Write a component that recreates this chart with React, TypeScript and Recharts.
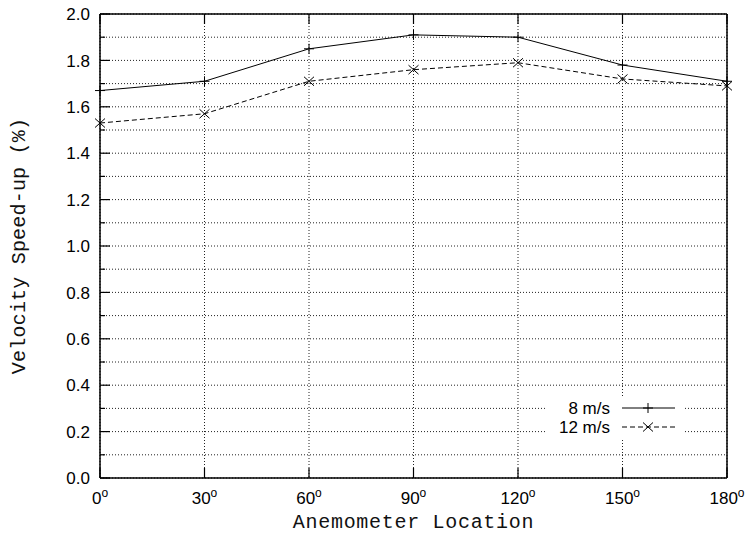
import React from "react";
import { LineChart, Line, XAxis, YAxis, CartesianGrid, Legend } from "recharts";

const angles = [0, 30, 60, 90, 120, 150, 180];
const speed8 = [1.67, 1.71, 1.85, 1.91, 1.9, 1.78, 1.71];
const speed12 = [1.53, 1.57, 1.71, 1.76, 1.79, 1.72, 1.69];
const seriesNames = ["8 m/s", "12 m/s"];
const xTicks = [0, 30, 60, 90, 120, 150, 180];
const yTicks = [0, 0.1, 0.2, 0.3, 0.4, 0.5, 0.6, 0.7, 0.8, 0.9, 1.0, 1.1, 1.2, 1.3, 1.4, 1.5, 1.6, 1.7, 1.8, 1.9, 2.0];

const data = angles.map((a, i) => ({ angle: a, s8: speed8[i], s12: speed12[i] }));

const SANS = "'Liberation Sans', Arial, Helvetica, sans-serif";
const MONO = "'Liberation Mono', 'DejaVu Sans Mono', monospace";

const isMajor = (v: number) => Math.round(v * 10) % 2 === 0;

const LeftTick = (props: any) => {
  const { x, y, payload } = props;
  const v = payload.value;
  const major = isMajor(v);
  return (
    <g>
      <line x1={x} x2={x + (major ? 10 : 5)} y1={y} y2={y} stroke="#000" strokeWidth={1.2} />
      {major && (
        <text x={x - 10} y={y} dy="0.36em" textAnchor="end" fontFamily={SANS} fontSize={17} fill="#000">
          {v.toFixed(1)}
        </text>
      )}
    </g>
  );
};

const RightTick = (props: any) => {
  const { x, y, payload } = props;
  const major = isMajor(payload.value);
  return <line x1={x} x2={x - (major ? 10 : 5)} y1={y} y2={y} stroke="#000" strokeWidth={1.2} />;
};

const BottomTick = (props: any) => {
  const { x, y, payload } = props;
  return (
    <g>
      <line x1={x} x2={x} y1={y} y2={y - 10} stroke="#000" strokeWidth={1.2} />
      <text x={x} y={y + 26} textAnchor="middle" fontFamily={SANS} fontSize={17} fill="#000">
        <tspan>{payload.value}</tspan>
        <tspan fontSize={12} dy={-7}>o</tspan>
      </text>
    </g>
  );
};

const TopTick = (props: any) => {
  const { x, y } = props;
  return <line x1={x} x2={x} y1={y} y2={y + 10} stroke="#000" strokeWidth={1.2} />;
};

const PlusDot = (props: any) => {
  const { cx, cy } = props;
  if (cx == null || cy == null) return null;
  return (
    <g>
      <line x1={cx - 5} x2={cx + 5} y1={cy} y2={cy} stroke="#000" strokeWidth={1} />
      <line x1={cx} x2={cx} y1={cy - 5} y2={cy + 5} stroke="#000" strokeWidth={1} />
    </g>
  );
};

const CrossDot = (props: any) => {
  const { cx, cy } = props;
  if (cx == null || cy == null) return null;
  return (
    <g>
      <line x1={cx - 5} x2={cx + 5} y1={cy - 4.5} y2={cy + 4.5} stroke="#000" strokeWidth={1} />
      <line x1={cx - 5} x2={cx + 5} y1={cy + 4.5} y2={cy - 4.5} stroke="#000" strokeWidth={1} />
    </g>
  );
};

const LegendContent = () => (
  <svg width={160} height={44} style={{ display: "block" }}>
    <rect x={7} y={2} width={136} height={40} fill="#fff" />
    <text x={70} y={12} dy="0.36em" textAnchor="end" fontFamily={SANS} fontSize={17} fill="#000">
      {seriesNames[0]}
    </text>
    <line x1={82} x2={135} y1={12} y2={12} stroke="#000" strokeWidth={1} />
    <PlusDot cx={108} cy={12} />
    <text x={70} y={31} dy="0.36em" textAnchor="end" fontFamily={SANS} fontSize={17} fill="#000">
      {seriesNames[1]}
    </text>
    <line x1={82} x2={135} y1={31} y2={31} stroke="#000" strokeWidth={1} strokeDasharray="5 3" />
    <CrossDot cx={108} cy={31} />
  </svg>
);

export default function App() {
  return (
    <div style={{ position: "absolute", left: 0, top: 0, width: 745, height: 540, background: "#fff" }}>
      <LineChart width={745} height={540} data={data} margin={{ top: 0, right: 0, bottom: 0, left: 0 }}>
        <CartesianGrid stroke="#222" strokeDasharray="1 2" strokeWidth={1} />
        <XAxis
          dataKey="angle"
          type="number"
          domain={[0, 180]}
          ticks={xTicks}
          interval={0}
          height={62}
          tickSize={0}
          tickMargin={0}
          tick={<BottomTick />}
          axisLine={{ stroke: "#000", strokeWidth: 1.5 }}
          tickLine={false}
          label={{
            value: "Anemometer Location",
            position: "insideBottom",
            offset: 12,
            style: { fontFamily: MONO, fontSize: 20, fill: "#111", letterSpacing: 0.7 },
          }}
        />
        <XAxis
          xAxisId="top"
          orientation="top"
          dataKey="angle"
          type="number"
          domain={[0, 180]}
          ticks={xTicks}
          interval={0}
          height={14}
          tickSize={0}
          tickMargin={0}
          tick={<TopTick />}
          axisLine={{ stroke: "#000", strokeWidth: 1.5 }}
          tickLine={false}
        />
        <YAxis
          type="number"
          domain={[0, 2]}
          ticks={yTicks}
          interval={0}
          width={100}
          tickSize={0}
          tickMargin={0}
          tick={<LeftTick />}
          axisLine={{ stroke: "#000", strokeWidth: 1.5 }}
          tickLine={false}
          label={{
            value: "Velocity Speed-up (%)",
            angle: -90,
            position: "insideLeft",
            offset: 18,
            style: { fontFamily: MONO, fontSize: 20, fill: "#111", letterSpacing: 0.2, textAnchor: "middle" },
          }}
        />
        <YAxis
          yAxisId="right"
          orientation="right"
          type="number"
          domain={[0, 2]}
          ticks={yTicks}
          interval={0}
          width={18}
          tickSize={0}
          tickMargin={0}
          tick={<RightTick />}
          axisLine={{ stroke: "#000", strokeWidth: 1.5 }}
          tickLine={false}
        />
        <Legend
          layout="horizontal"
          verticalAlign="middle"
          align="center"
          content={<LegendContent />}
          wrapperStyle={{ position: "absolute", left: 540, top: 396, width: 160, height: 44 }}
        />
        <Line
          dataKey="s8"
          name={seriesNames[0]}
          type="linear"
          stroke="#000"
          strokeWidth={1}
          dot={<PlusDot />}
          activeDot={false}
          isAnimationActive={false}
        />
        <Line
          dataKey="s12"
          name={seriesNames[1]}
          type="linear"
          stroke="#000"
          strokeWidth={1}
          strokeDasharray="5 3"
          dot={<CrossDot />}
          activeDot={false}
          isAnimationActive={false}
        />
      </LineChart>
    </div>
  );
}
